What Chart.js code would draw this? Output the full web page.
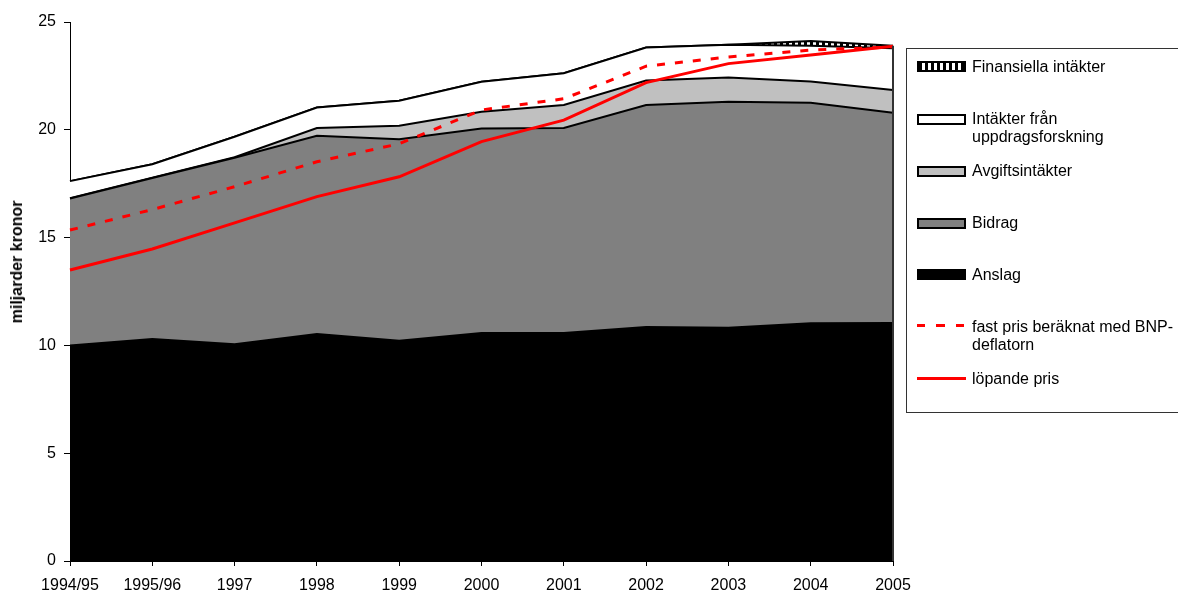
<!DOCTYPE html>
<html lang="sv">
<head>
    <meta charset="UTF-8">
    <title>Intäkter miljarder kronor</title>
    <script src="https://cdn.jsdelivr.net/npm/chart.js"></script>
    <style>
        body {
            margin: 0;
            background: #fff;
            font-family: Arial, "Liberation Sans", sans-serif;
            overflow: hidden;
        }
        .wrap {
            position: relative;
            width: 1178px;
            height: 592px;
        }
        .ytitle {
            position: absolute;
            left: 17px;
            top: 262px;
            font-weight: bold;
            font-size: 16px;
            white-space: nowrap;
            transform: translate(-50%, -50%) rotate(-90deg);
        }
        .legend {
            position: absolute;
            left: 906px;
            top: 48px;
            width: 300px;
            height: 365px;
            border: 1px solid #333;
            box-sizing: border-box;
        }
        .item {
            position: absolute;
            left: 65px;
            font-size: 16px;
            line-height: 18px;
            color: #000;
            white-space: nowrap;
        }
        .sw {
            position: absolute;
            left: 10px;
            width: 49px;
            height: 11px;
            border: 2px solid #000;
            box-sizing: border-box;
        }
        .ln {
            position: absolute;
            left: 10px;
            width: 49px;
            height: 3px;
        }
    </style>
</head>
<body>

<div class="wrap">
    <canvas id="chart" width="1178" height="592"></canvas>
    <div class="ytitle">miljarder kronor</div>
    <div class="legend">
        <div class="sw" style="top:12px; background: repeating-linear-gradient(to right, #000 0 3px, #fff 3px 6px);"></div>
        <div class="item" style="top:9px;">Finansiella intäkter</div>

        <div class="sw" style="top:65px; background:#fff;"></div>
        <div class="item" style="top:61px;">Intäkter från<br>uppdragsforskning</div>

        <div class="sw" style="top:117px; background:#c0c0c0;"></div>
        <div class="item" style="top:113px;">Avgiftsintäkter</div>

        <div class="sw" style="top:169px; background:#808080;"></div>
        <div class="item" style="top:165px;">Bidrag</div>

        <div class="sw" style="top:220px; background:#000;"></div>
        <div class="item" style="top:217px;">Anslag</div>

        <div class="ln" style="top:275px; background: repeating-linear-gradient(to right, #ff0000 0 8px, transparent 8px 19.5px);"></div>
        <div class="item" style="top:269px;">fast pris beräknat med BNP-<br>deflatorn</div>

        <div class="ln" style="top:328px; background:#ff0000;"></div>
        <div class="item" style="top:321px;">löpande pris</div>
    </div>
</div>

<script>
    // x categories
    const years = ['1994/95', '1995/96', '1997', '1998', '1999', '2000', '2001', '2002', '2003', '2004', '2005'];

    // stacked income parts (miljarder kronor)
    const anslag      = [10.0, 10.3, 10.05, 10.53, 10.22, 10.57, 10.58, 10.85, 10.82, 11.03, 11.04];
    const bidrag      = [6.81, 7.46, 8.65, 9.19, 9.34, 9.49, 9.5, 10.3, 10.48, 10.23, 9.75];
    const avgift      = [0.02, 0.02, 0.03, 0.36, 0.63, 0.78, 1.07, 1.14, 1.13, 0.98, 1.06];
    const uppdrag     = [0.79, 0.62, 0.95, 0.95, 1.16, 1.39, 1.47, 1.53, 1.52, 1.66, 1.93];
    const finansiella = [0, 0, 0, 0, 0, 0, 0, 0, 0, 0.22, 0.12];

    // total in two price bases
    const fastPris    = [15.35, 16.3, 17.36, 18.52, 19.35, 20.92, 21.44, 22.95, 23.38, 23.7, 23.84];
    const lopandePris = [13.5, 14.47, 15.68, 16.9, 17.82, 19.45, 20.45, 22.19, 23.07, 23.47, 23.88];

    const yMin = 0, yMax = 25, yStep = 5;

    // striped fill for Finansiella intäkter
    function stripes() {
        const c = document.createElement('canvas');
        c.width = 6;
        c.height = 6;
        const g = c.getContext('2d');
        g.fillStyle = '#000';
        g.fillRect(0, 0, 6, 6);
        g.fillStyle = '#fff';
        g.fillRect(3, 0, 3, 6);
        return g.createPattern(c, 'repeat');
    }

    function area(label, data, color, fill) {
        return {
            label: label,
            data: data,
            stack: 'inkomster',
            backgroundColor: color,
            borderColor: '#000',
            borderWidth: 2,
            pointRadius: 0,
            tension: 0,
            fill: fill,
            order: 1
        };
    }

    // dark edge at the right end of the stacked areas
    const rightEdge = {
        id: 'rightEdge',
        afterDatasetsDraw(chart) {
            const x = chart.scales.x, y = chart.scales.y;
            const i = years.length - 1;
            const top = anslag[i] + bidrag[i] + avgift[i] + uppdrag[i] + finansiella[i];
            const ctx = chart.ctx;
            ctx.save();
            ctx.strokeStyle = '#333';
            ctx.lineWidth = 2;
            ctx.beginPath();
            ctx.moveTo(x.getPixelForValue(i), y.getPixelForValue(top));
            ctx.lineTo(x.getPixelForValue(i), y.getPixelForValue(0));
            ctx.stroke();
            ctx.restore();
        }
    };

    const ctx = document.getElementById('chart').getContext('2d');
    new Chart(ctx, {
        type: 'line',
        data: {
            labels: years,
            datasets: [
                area('Anslag', anslag, '#000', 'origin'),
                area('Bidrag', bidrag, '#808080', '-1'),
                area('Avgiftsintäkter', avgift, '#c0c0c0', '-1'),
                area('Intäkter från uppdragsforskning', uppdrag, '#fff', '-1'),
                area('Finansiella intäkter', finansiella, stripes(), '-1'),
                {
                    label: 'fast pris beräknat med BNP-deflatorn',
                    data: fastPris,
                    stack: 'fast',
                    borderColor: '#ff0000',
                    borderWidth: 3,
                    borderDash: [8, 10],
                    pointRadius: 0,
                    tension: 0,
                    fill: false,
                    order: 0
                },
                {
                    label: 'löpande pris',
                    data: lopandePris,
                    stack: 'lopande',
                    borderColor: '#ff0000',
                    borderWidth: 3,
                    pointRadius: 0,
                    tension: 0,
                    fill: false,
                    order: 0
                }
            ]
        },
        options: {
            responsive: false,
            animation: false,
            layout: {
                padding: { top: 22, right: 285, bottom: 0, left: 0 }
            },
            scales: {
                x: {
                    grid: { display: true, drawOnChartArea: false, color: '#000', tickLength: 5 },
                    border: { display: true, color: '#000' },
                    ticks: {
                        color: '#000',
                        font: { family: 'Arial, "Liberation Sans"', size: 16 },
                        padding: 10,
                        maxRotation: 0,
                        autoSkip: false
                    },
                    afterFit: s => { s.height = 31; }
                },
                y: {
                    stacked: true,
                    min: yMin,
                    max: yMax,
                    grid: { display: true, drawOnChartArea: false, color: '#000', tickLength: 6 },
                    border: { display: true, color: '#000' },
                    ticks: {
                        stepSize: yStep,
                        color: '#000',
                        font: { family: 'Arial, "Liberation Sans"', size: 16 },
                        padding: 8
                    },
                    afterFit: s => { s.width = 70; }
                }
            },
            plugins: {
                legend: { display: false },
                tooltip: { enabled: false }
            }
        },
        plugins: [rightEdge]
    });
</script>

</body>
</html>
